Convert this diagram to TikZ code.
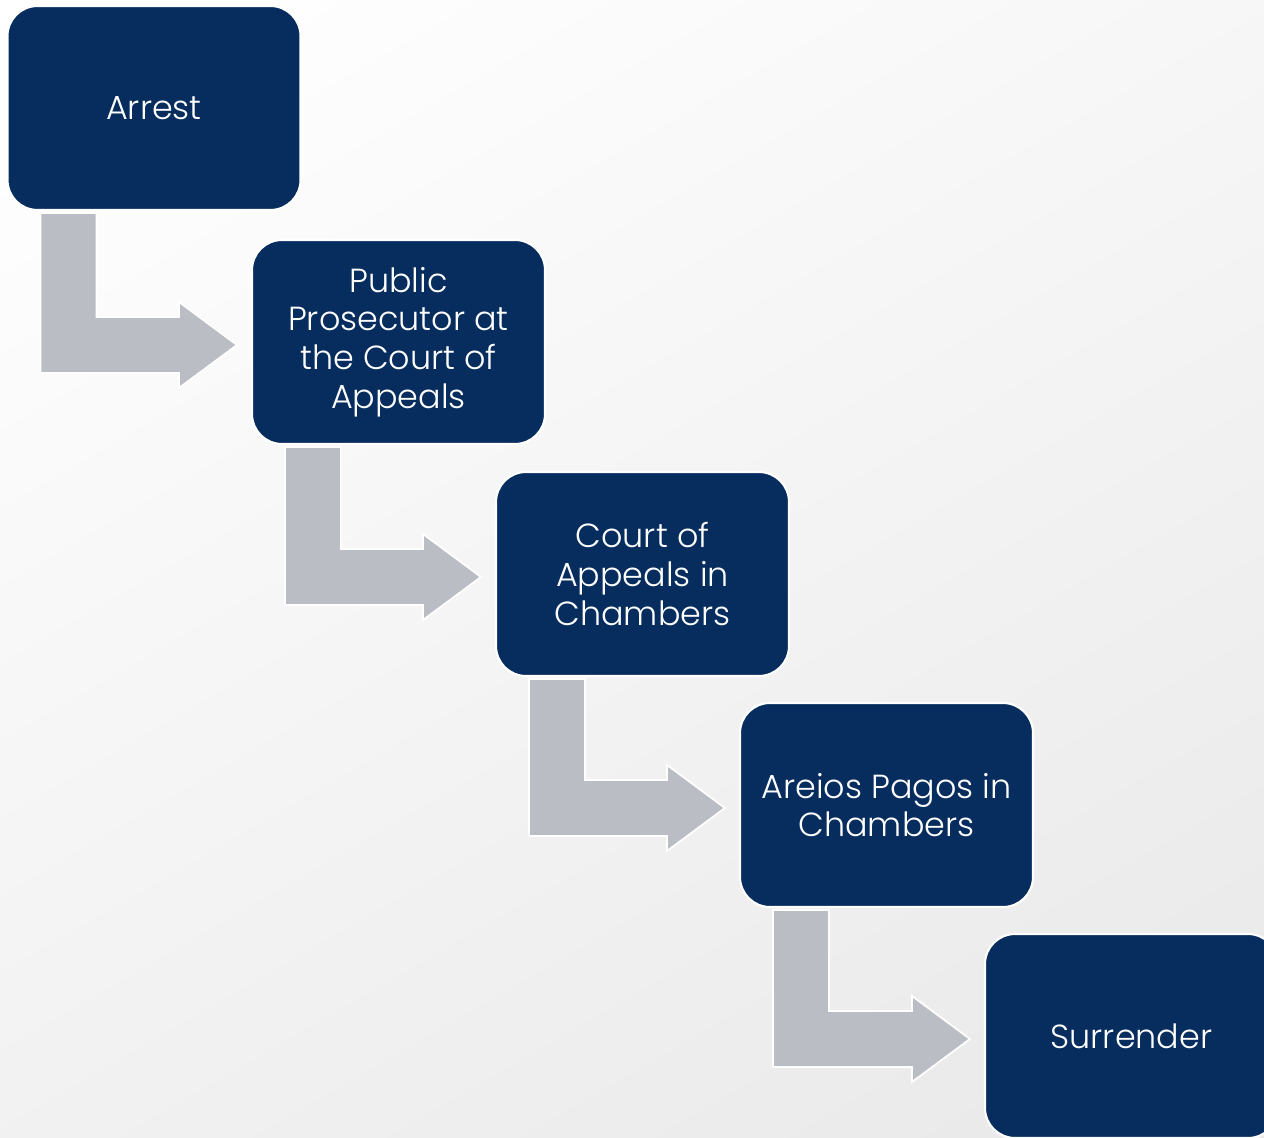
\documentclass[tikz,border=0pt]{standalone}
\usepackage{fontspec}
\setmainfont{Poppins}[UprightFont=* Light]
\usepackage{tikz}
\usetikzlibrary{calc}

\definecolor{navy}{RGB}{6,45,94}
\definecolor{arrowgray}{RGB}{187,189,196}
\definecolor{bggray}{RGB}{233,233,233}

\tikzset{
  stagebox/.style={rectangle,rounded corners=0.6cm,fill=navy,draw=white,line width=1.2pt,
    minimum width=5.86cm,minimum height=4.08cm,text=white,align=center,
    font=\fontsize{19}{22}\selectfont},
  bentarrow/.style={fill=arrowgray,draw=white,line width=1pt}
}

\begin{document}
\begin{tikzpicture}
% Background
\useasboundingbox (0,0) rectangle (25.28,-22.76);
\shade[top color=white,bottom color=bggray,shading angle=30] (-3,3) rectangle (28.28,-25.76);

\begin{scope}
\clip (0,0) rectangle (25.28,-22.76);

% Stages
\node[stagebox] (arrest) at (3.08,-2.16) {Arrest};
\node[stagebox] (prosecutor) at (7.97,-6.84) {Public\\Prosecutor at\\the Court of\\Appeals};
\node[stagebox] (appeals) at (12.85,-11.48) {Court of\\Appeals in\\Chambers};
\node[stagebox] (areios) at (17.73,-16.10) {Areios Pagos in\\Chambers};
\node[stagebox] (surrender) at (22.63,-20.72) {Surrender};

% Bent arrows between stages
\foreach \a/\b in {arrest/prosecutor,prosecutor/appeals,appeals/areios,areios/surrender}{
  \coordinate (tip) at ($(\b.west)+(-0.28,-0.06)$);
  \coordinate (top) at ($(\a.south west)+(0.68,-0.04)$);
  \draw[bentarrow] (top) -- ++(1.12,0) |- ($(tip)+(-1.16,0.56)$) -- ++(0,0.30) -- (tip)
    -- ($(tip)+(-1.16,-0.86)$) -- ++(0,0.30) -| (top) -- cycle;
}
\end{scope}
\end{tikzpicture}
\end{document}
